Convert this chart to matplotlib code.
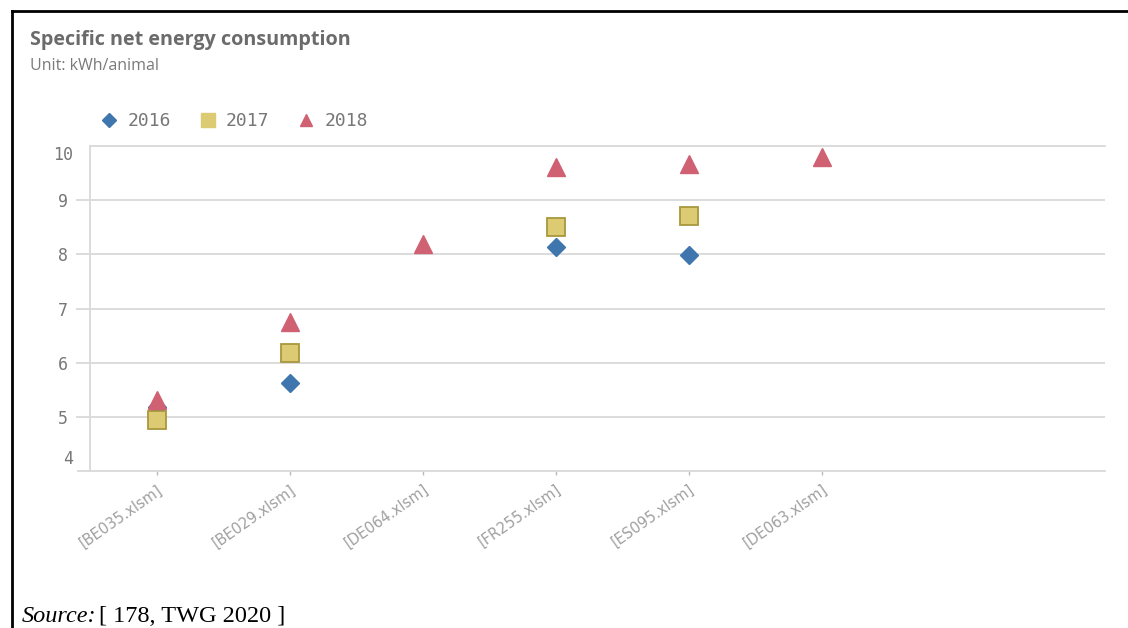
import numpy as np
import matplotlib
matplotlib.use("Agg")
import matplotlib.pyplot as plt
from matplotlib.lines import Line2D
import matplotlib.transforms as mtransforms

W, H = 1128, 628

categories = ["[BE035.xlsm]", "[BE029.xlsm]", "[DE064.xlsm]",
              "[FR255.xlsm]", "[ES095.xlsm]", "[DE063.xlsm]"]
years = ["2016", "2017", "2018"]
vals_2016 = [5.20, 5.63, np.nan, 8.14, 7.98, np.nan]
vals_2017 = [4.95, 6.19, np.nan, 8.50, 8.70, np.nan]
vals_2018 = [5.32, 6.75, 8.20, 9.61, 9.66, 9.80]

GRID = "#d9d9d9"
BLUE, GOLD, GOLD_EDGE, RED = "#3f76ae", "#ddcb73", "#a8973c", "#cf6173"


def main():
    fig = plt.figure(figsize=(W / 100, H / 100), dpi=100)
    fig.patch.set_facecolor("white")

    # axes box in pixel coords
    left, right, top, bottom = 90, 1105, 145.7, 470.7
    ax = fig.add_axes([left / W, 1 - bottom / H, (right - left) / W, (bottom - top) / H])

    x = np.arange(len(categories))
    ax.plot(x, vals_2016, linestyle="none", marker="D", markersize=9.5,
            color=BLUE, zorder=3)
    ax.plot(x, vals_2017, linestyle="none", marker="s", markersize=13,
            color=GOLD, markeredgecolor=GOLD_EDGE, markeredgewidth=1.3, zorder=3)
    ax.plot(x, vals_2018, linestyle="none", marker="^", markersize=12.5,
            color=RED, zorder=3)

    ax.set_xlim(-0.5, 7.13)
    ax.set_ylim(4.02, 10.0)

    ax.set_yticks([5, 6, 7, 8, 9])
    ax.set_yticklabels(["5", "6", "7", "8", "9"])
    ax.grid(axis="y", color=GRID, lw=1.3, zorder=0)
    ax.tick_params(axis="y", length=10, width=1.3, color=GRID, pad=6,
                   labelcolor="#777777", labelsize=12)
    for lab in ax.get_yticklabels():
        lab.set_family("DejaVu Sans Mono")

    # edge labels of y axis sit inside the range
    ytr = mtransforms.blended_transform_factory(ax.transAxes, ax.transData)
    for v, pos in [("10", 9.83), ("4", 4.23)]:
        ax.text(-0.0165, pos, v, transform=ytr, ha="right", va="center",
                fontsize=12, color="#777777", family="DejaVu Sans Mono")

    ax.set_xticks(x)
    ax.set_xticklabels(categories, rotation=35, ha="right", rotation_mode="anchor",
                       fontsize=10.5, color="#a0a0a0",
                       family=["Liberation Sans Narrow", "DejaVu Sans"])
    ax.tick_params(axis="x", length=3, width=1, color="#bbbbbb", pad=5)

    ax.spines["right"].set_visible(False)
    for side in ["top", "left", "bottom"]:
        ax.spines[side].set_color(GRID)
        ax.spines[side].set_linewidth(1.3)
    ax.spines["bottom"].set_bounds(-0.59, 7.13)

    # legend with flat proxy markers
    proxies = [
        Line2D([], [], linestyle="none", marker="D", markersize=7, color=BLUE),
        Line2D([], [], linestyle="none", marker="s", markersize=10, color=GOLD),
        Line2D([], [], linestyle="none", marker="^", markersize=9, color=RED),
    ]
    leg = fig.legend(proxies, years, loc="center left",
                     bbox_to_anchor=(84 / W, 1 - 121 / H), ncol=3, frameon=False,
                     handlelength=1.0, handletextpad=0.5, columnspacing=1.55,
                     prop={"family": "DejaVu Sans Mono", "size": 13})
    for t in leg.get_texts():
        t.set_color("#777777")

    fig.text(30 / W, 1 - 40 / H, "Specific net energy consumption", fontsize=14.2,
             fontweight="bold", color="#6b6b6b", family="Open Sans", va="center")
    fig.text(30 / W, 1 - 66 / H, "Unit: kWh/animal", fontsize=11.5,
             color="#7a7a7a", family="Open Sans", va="center")

    # outer frame
    fig.add_artist(Line2D([12 / W, 1.0], [1 - 11 / H, 1 - 11 / H], color="black",
                          lw=2, transform=fig.transFigure))
    fig.add_artist(Line2D([12 / W, 12 / W], [1 - 11 / H, 0], color="black",
                          lw=2, transform=fig.transFigure))

    fig.text(22 / W, 1 - 616 / H, "Source:", fontsize=17.5, style="italic",
             family="Liberation Serif", va="center")
    fig.text(99 / W, 1 - 616 / H, "[ 178, TWG 2020 ]", fontsize=17.5,
             family="Liberation Serif", va="center")

    fig.savefig("out.png", dpi=100)
    plt.close(fig)


if __name__ == "__main__":
    main()
